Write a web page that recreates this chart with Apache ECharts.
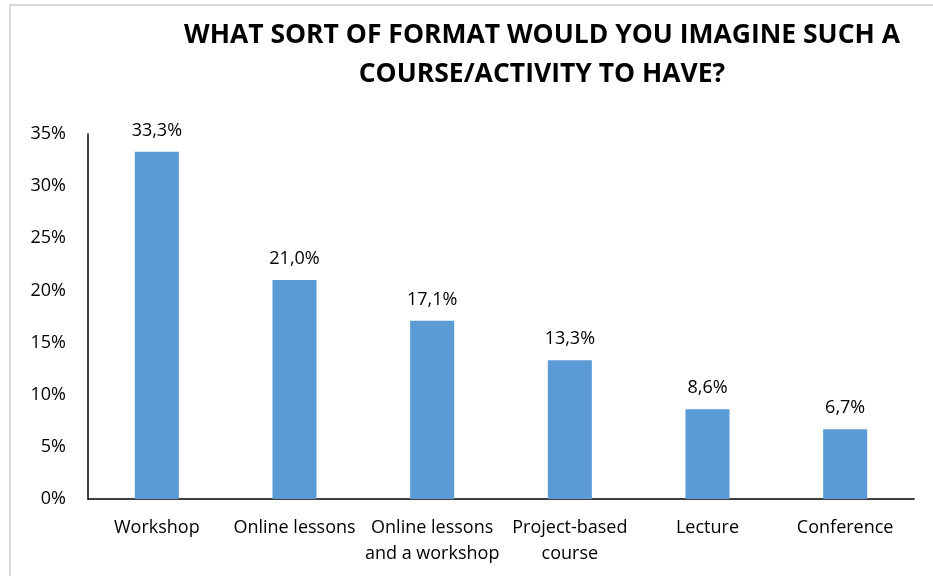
<!DOCTYPE html>
<html><head><meta charset="utf-8">
<script src="https://cdn.jsdelivr.net/npm/echarts@6/dist/echarts.min.js"></script>
<style>html,body{margin:0;padding:0;background:#fff}#c{width:933px;height:576px}</style>
</head><body><div id="c"></div>
<script>
const categories = ['Workshop', 'Online lessons', 'Online lessons\nand a workshop', 'Project-based\ncourse', 'Lecture', 'Conference'];
const values = [33.3, 21.0, 17.1, 13.3, 8.6, 6.7];
const titleText = 'WHAT SORT OF FORMAT WOULD YOU IMAGINE SUCH A\nCOURSE/ACTIVITY TO HAVE?';
const font = '"Open Sans", sans-serif';
const chart = echarts.init(document.getElementById('c'), null, {renderer: 'canvas'});
chart.setOption({
  animation: false,
  title: {
    text: titleText, left: 537, top: 11, textAlign: 'center',
    textStyle: {fontFamily: font, fontWeight: 'bold', fontSize: 26.5, lineHeight: 39, color: '#000'}
  },
  graphic: [{
    type: 'polyline', shape: {points: [[10, 580], [10, 5], [940, 5]]},
    style: {stroke: '#d9d9d9', lineWidth: 2, fill: null}
  }],
  grid: {left: 88, right: 19, top: 134, bottom: 77, containLabel: false},
  xAxis: {
    type: 'category', data: categories,
    axisLine: {lineStyle: {color: '#000', width: 1.5}},
    axisTick: {show: false},
    axisLabel: {fontFamily: font, fontSize: 18, color: '#000', lineHeight: 26, margin: 16, interval: 0}
  },
  yAxis: {
    type: 'value', min: 0, max: 35, interval: 5,
    axisLine: {show: true, lineStyle: {color: '#000', width: 1.5}},
    axisTick: {show: false},
    splitLine: {show: false},
    axisLabel: {formatter: '{value}%', fontFamily: font, fontSize: 18, color: '#000', margin: 22}
  },
  series: [{
    type: 'bar', data: values, barWidth: '32%',
    itemStyle: {color: '#5b9bd5'},
    label: {
      show: true, position: 'top', distance: 12,
      formatter: p => p.value.toFixed(1).replace('.', ',') + '%',
      fontFamily: font, fontSize: 18, color: '#000'
    }
  }]
});
</script></body></html>
